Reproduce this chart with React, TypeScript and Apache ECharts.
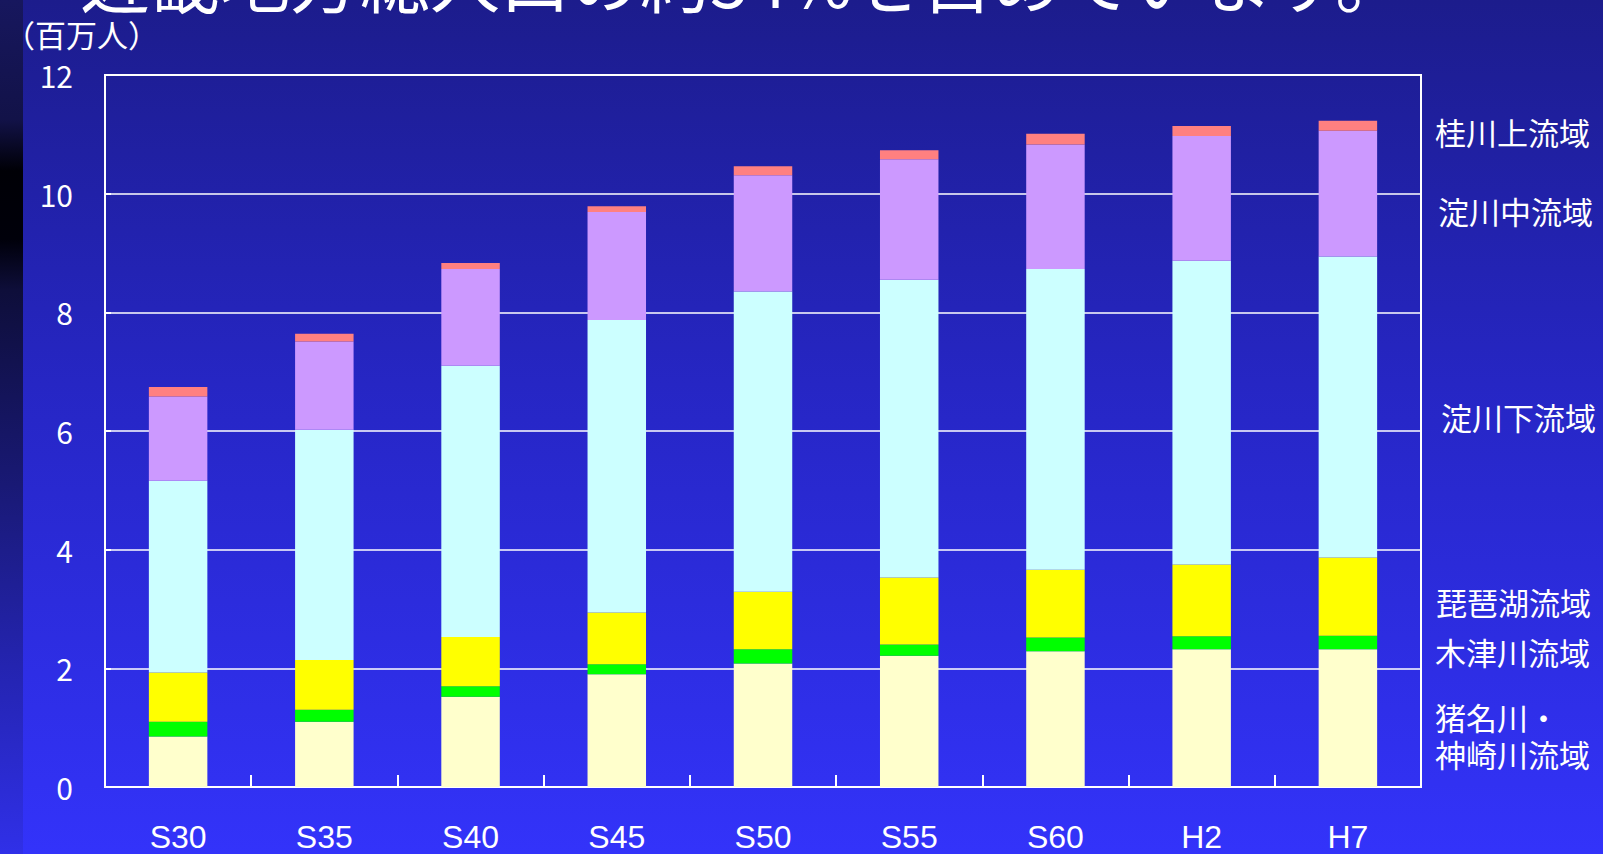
import React, { useEffect, useRef } from 'react';
import * as echarts from 'echarts';

// ---- data ----
const categories = ['S30', 'S35', 'S40', 'S45', 'S50', 'S55', 'S60', 'H2', 'H7'];
const regionNames = ['猪名川・神崎川流域', '木津川流域', '琵琶湖流域', '淀川下流域', '淀川中流域', '桂川上流域'];
const inaKanzaki = [0.85, 1.10, 1.52, 1.90, 2.08, 2.21, 2.29, 2.32, 2.32];
const kizugawa = [0.25, 0.20, 0.18, 0.17, 0.24, 0.19, 0.23, 0.22, 0.23];
const biwako = [0.83, 0.84, 0.83, 0.87, 0.97, 1.13, 1.14, 1.21, 1.32];
const yodoLower = [3.23, 3.88, 4.57, 4.93, 5.06, 5.02, 5.07, 5.12, 5.07];
const yodoMiddle = [1.42, 1.49, 1.63, 1.82, 1.96, 2.03, 2.10, 2.10, 2.12];
const katsuraUpper = [0.16, 0.13, 0.10, 0.10, 0.15, 0.15, 0.18, 0.17, 0.17];
const yTicks = [0, 2, 4, 6, 8, 10, 12];
const unitLabel = '（百万人）';
const titleText = '近畿地方総人口の約54%を占めています。';
const labelLines = ['猪名川・', '神崎川流域', '木津川流域', '琵琶湖流域', '淀川下流域', '淀川中流域', '桂川上流域'];

// ---- styles / layout ----
const seriesValues = [inaKanzaki, kizugawa, biwako, yodoLower, yodoMiddle, katsuraUpper];
const seriesColors = ['#FFFFCC', '#00FF00', '#FFFF00', '#CCFFFF', '#CC99FF', '#FF8080'];
const labelPos = [
  [1435, 716],
  [1435, 753],
  [1435, 651],
  [1436, 601],
  [1441, 416],
  [1438, 210],
  [1435, 131],
];

const JP = '"Noto Sans CJK JP", "Noto Sans CJK SC", sans-serif';

export default function App() {
  const ref = useRef<HTMLDivElement>(null);
  useEffect(() => {
    const chart = echarts.init(ref.current!, null, { renderer: 'svg' });
    const option: any = {
      animation: false,
      backgroundColor: 'transparent',
      grid: {
        left: 105,
        right: 182,
        top: 75,
        bottom: 67,
        show: true,
        borderColor: '#ffffff',
        borderWidth: 2,
        backgroundColor: 'transparent',
      },
      xAxis: {
        type: 'category',
        data: categories,
        axisLine: { show: true, lineStyle: { color: '#ffffff', width: 2 } },
        axisTick: { show: true, inside: true, length: 12, alignWithLabel: false, lineStyle: { color: '#ffffff', width: 2 } },
        axisLabel: { color: '#ffffff', fontSize: 32, margin: 34, fontFamily: '"Liberation Sans", Arial, sans-serif' },
        splitLine: { show: false },
      },
      yAxis: {
        type: 'value',
        min: yTicks[0],
        max: yTicks[yTicks.length - 1],
        interval: 2,
        axisLine: { show: true, lineStyle: { color: '#ffffff', width: 2 } },
        axisTick: { show: true, inside: true, length: 6, lineStyle: { color: '#ffffff', width: 2 } },
        axisLabel: { color: '#ffffff', fontSize: 30, margin: 32, fontFamily: JP },
        splitLine: { show: true, lineStyle: { color: '#ffffff', width: 1.5 } },
      },
      series: seriesValues.map((vals, i) => ({
        name: regionNames[i],
        type: 'bar',
        stack: 'total',
        barWidth: '40%',
        data: vals,
        itemStyle: { color: seriesColors[i] },
      })),
      graphic: [
        {
          type: 'text',
          left: 80,
          top: -58,
          style: {
            text: titleText,
            fill: '#ffffff',
            fontSize: 70,
            lineHeight: 64,
            fontFamily: JP,
            shadowColor: '#000000',
            shadowOffsetX: 4,
            shadowOffsetY: 4,
            shadowBlur: 0,
          },
        },
        {
          type: 'text',
          x: 4,
          y: 33,
          style: {
            text: unitLabel,
            fill: '#ffffff',
            fontSize: 31,
            lineHeight: 30,
            fontFamily: JP,
            verticalAlign: 'middle',
            align: 'left',
          },
        },
        ...labelLines.map((t, i) => ({
          type: 'text',
          x: labelPos[i][0],
          y: labelPos[i][1],
          style: {
            text: t,
            fill: '#ffffff',
            fontSize: 31,
            lineHeight: 34,
            fontFamily: JP,
            verticalAlign: 'middle',
            align: 'left',
          },
        })),
      ],
    };
    chart.setOption(option);
    return () => chart.dispose();
  }, []);
  return (
    <div
      style={{
        position: 'fixed',
        left: 0,
        top: 0,
        width: 1603,
        height: 854,
        background: 'linear-gradient(to bottom, #1c1c8c 0%, #2626c4 45%, #3333fa 100%)',
        overflow: 'hidden',
      }}
    >
      <div
        style={{
          position: 'absolute',
          left: 0,
          top: 0,
          width: 23,
          height: 854,
          background:
            'linear-gradient(to bottom, #17175e 0%, #121248 14%, #000006 20%, #00000a 28%, #0e0e3a 34%, #181870 55%, #2424b0 78%, #3030e8 100%)',
        }}
      />
      <div ref={ref} style={{ position: 'absolute', left: 0, top: 0, width: 1603, height: 854 }} />
    </div>
  );
}
